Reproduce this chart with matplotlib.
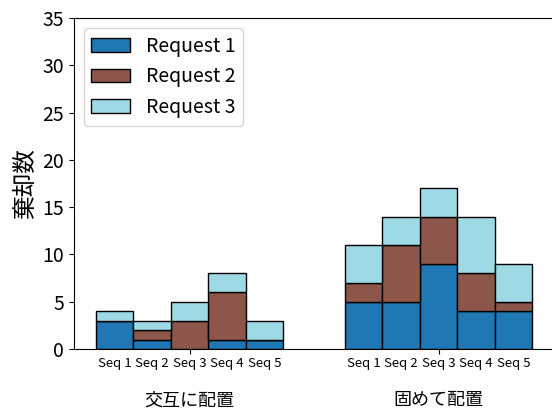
import numpy as np
import matplotlib
matplotlib.use("Agg")
import matplotlib.pyplot as plt

plt.rcParams['font.family'] = ['Noto Sans CJK JP', 'DejaVu Sans']

# rejected counts per sequence, split by request
seqs = ['Seq 1', 'Seq 2', 'Seq 3', 'Seq 4', 'Seq 5']
groups = ['交互に配置', '固めて配置']
req_names = ['Request 1', 'Request 2', 'Request 3']
colors = ['#1f77b4', '#8c564b', '#9edae5']

alt_r1 = [3, 1, 0, 1, 1]
alt_r2 = [0, 1, 3, 5, 0]
alt_r3 = [1, 1, 2, 2, 2]

blk_r1 = [5, 5, 9, 4, 4]
blk_r2 = [2, 6, 5, 4, 1]
blk_r3 = [4, 3, 3, 6, 4]

fig = plt.figure(figsize=(5.52, 4.12), dpi=100)
ax = fig.add_axes([0.134, 0.153, 0.870, 0.803])

x = np.arange(len(seqs))
offset = 6.64
positions = [x, x + offset]
data = [(alt_r1, alt_r2, alt_r3), (blk_r1, blk_r2, blk_r3)]

for gi, (pos, stack) in enumerate(zip(positions, data)):
    bottom = np.zeros(len(seqs))
    for ri, vals in enumerate(stack):
        ax.bar(pos, vals, width=1.0, bottom=bottom, color=colors[ri],
               edgecolor='black', linewidth=1,
               label=req_names[ri] if gi == 0 else None)
        bottom += np.array(vals)
    for p, s in zip(pos, seqs):
        ax.text(p, -0.9, s, ha='center', va='top', fontsize=9.5)

ax.set_xticks([x.mean(), x.mean() + offset])
ax.set_xticklabels(groups, fontsize=13)
ax.tick_params(axis='x', pad=27)
ax.set_ylim(0, 35)
ax.set_yticks(range(0, 36, 5))
ax.tick_params(axis='y', labelsize=14)
ax.set_ylabel('棄却数', fontsize=17)
ax.spines['right'].set_visible(False)
ax.legend(loc='upper left', fontsize=14)

fig.savefig('out.png', dpi=100)
